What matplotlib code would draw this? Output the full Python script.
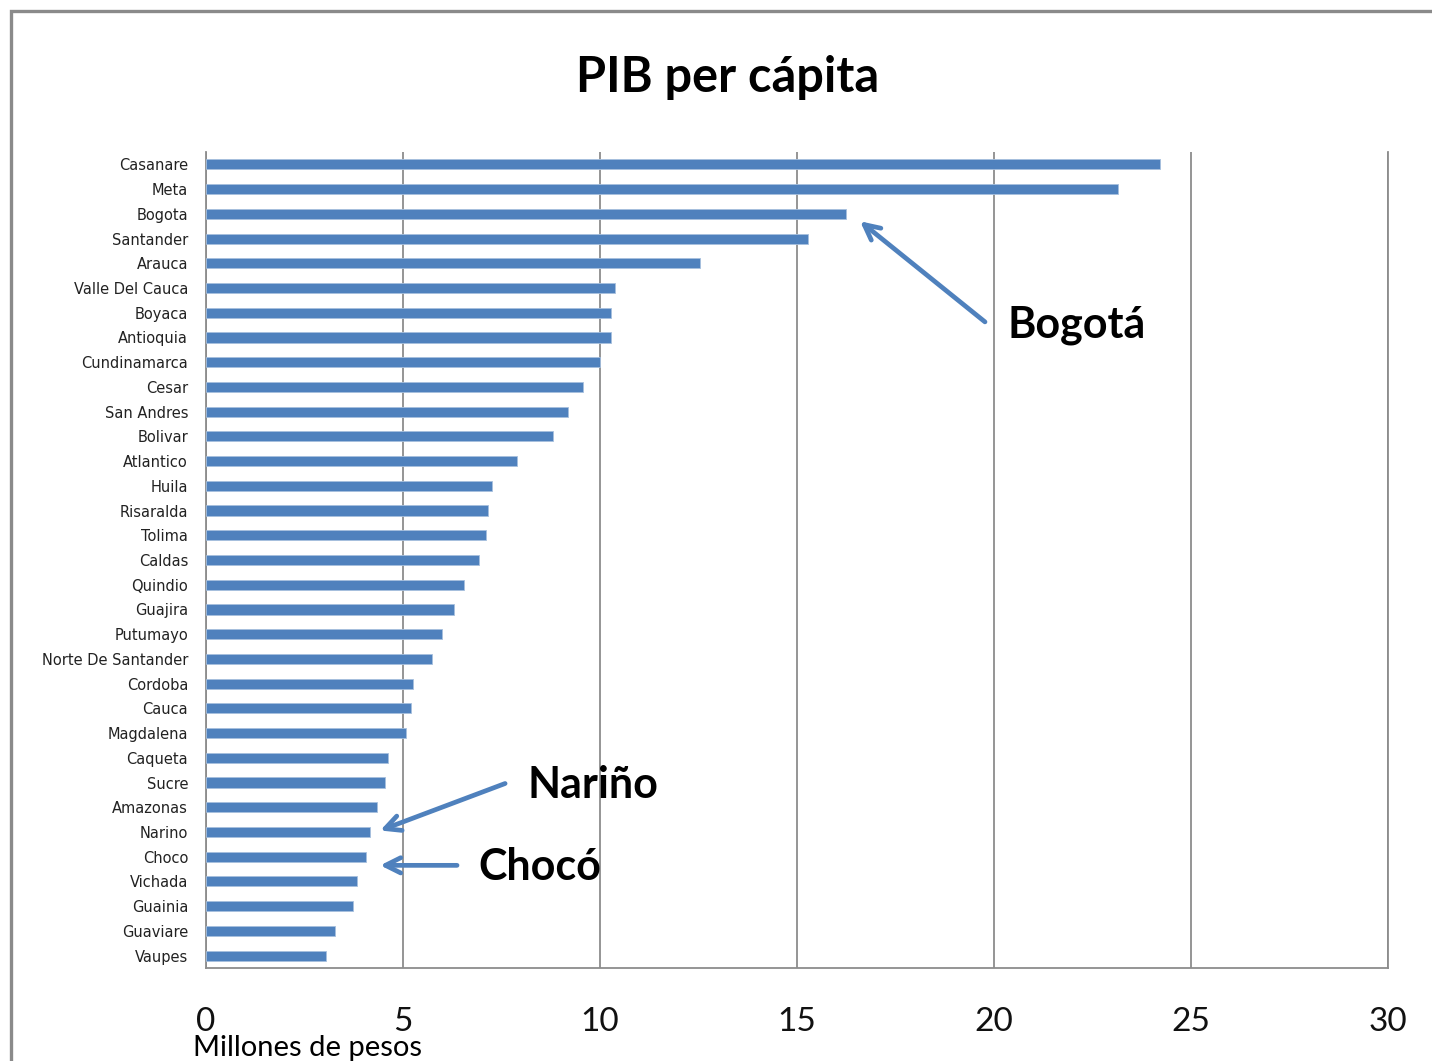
import matplotlib
matplotlib.use('Agg')
import matplotlib.pyplot as plt
from matplotlib.patches import Rectangle

# departamentos, de arriba hacia abajo
deptos = ['Casanare', 'Meta', 'Bogota', 'Santander', 'Arauca', 'Valle Del Cauca',
          'Boyaca', 'Antioquia', 'Cundinamarca', 'Cesar', 'San Andres', 'Bolivar',
          'Atlantico', 'Huila', 'Risaralda', 'Tolima', 'Caldas', 'Quindio', 'Guajira',
          'Putumayo', 'Norte De Santander', 'Cordoba', 'Cauca', 'Magdalena', 'Caqueta',
          'Sucre', 'Amazonas', 'Narino', 'Choco', 'Vichada', 'Guainia', 'Guaviare',
          'Vaupes']
pib = [24.2, 23.15, 16.24, 15.28, 12.54, 10.38, 10.28, 10.28, 10.0, 9.57, 9.19, 8.81,
       7.89, 7.26, 7.16, 7.1, 6.93, 6.55, 6.29, 5.99, 5.74, 5.25, 5.2, 5.08, 4.62,
       4.54, 4.34, 4.16, 4.06, 3.83, 3.73, 3.27, 3.05]
xticks = [0, 5, 10, 15, 20, 25, 30]

# flechas: (texto, punta x, punta y, cola x, cola y, texto x, texto y)
notas = [('Bogotá', 16.6, 2.3, 19.77, 6.37, 20.33, 6.5),
         ('Nariño', 4.42, 26.94, 7.59, 25.04, 8.15, 25.1),
         ('Chocó', 4.42, 28.35, 6.37, 28.35, 6.9, 28.4)]

azul = '#4F81BD'
gris = '#8C8C8C'

fig = plt.figure(figsize=(14.32, 10.61), dpi=100)
ax = fig.add_axes([0.1439, 0.0877, 0.8254, 0.769])

ypos = list(range(len(deptos)))
ax.barh(ypos, pib, height=0.41, color=azul, edgecolor='#A7C0DE', linewidth=0.6, zorder=3)
ax.set_ylim(len(deptos) - 0.5, -0.5)
ax.set_xlim(0, 30)
ax.set_yticks(ypos)
ax.set_yticklabels(deptos, fontsize=10.5, family='DejaVu Sans', color='#222222')
ax.set_xticks(xticks)
ax.set_xticklabels([str(t) for t in xticks], fontsize=24, family='Lato', color='#111111')
ax.tick_params(axis='both', length=0)
ax.tick_params(axis='y', pad=13)
ax.tick_params(axis='x', pad=28)
ax.grid(axis='x', color=gris, linewidth=1.3, zorder=0)
for s in ['top']:
    ax.spines[s].set_visible(False)
for s in ['left', 'bottom', 'right']:
    ax.spines[s].set_color(gris)
    ax.spines[s].set_linewidth(1.3)

for txt, hx, hy, tx, ty, lx, ly in notas:
    ax.annotate('', xy=(hx, hy), xytext=(tx, ty),
                arrowprops=dict(arrowstyle='->,head_length=1.1,head_width=0.55',
                                color=azul, lw=3.4, shrinkA=0, shrinkB=0), zorder=5)
    ax.text(lx, ly, txt, fontsize=31, fontweight='bold', family='Lato',
            va='center', ha='left', zorder=6)

fig.text(728 / 1432, 1 - 77 / 1061, 'PIB per cápita', fontsize=35, fontweight='bold',
         family='Lato', ha='center', va='center')
fig.text(193 / 1432, 1 - 1048 / 1061, 'Millones de pesos', fontsize=21, family='Lato',
         ha='left', va='center')

# marco exterior
fig.patches.append(Rectangle((11 / 1432, -0.1), 1.2, (1050 / 1061) + 0.1,
                             transform=fig.transFigure, fill=False,
                             edgecolor='#8A8A8A', linewidth=2.4))

fig.savefig('out.png', dpi=100)
